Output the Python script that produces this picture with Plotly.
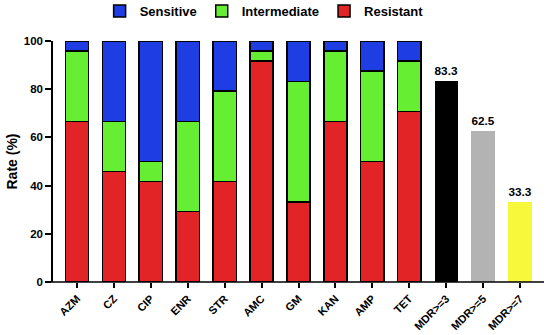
import plotly.graph_objects as go

drugs = ["AZM", "CZ", "CIP", "ENR", "STR", "AMC", "GM", "KAN", "AMP", "TET"]
resistant = [66.7, 45.8, 41.7, 29.2, 41.7, 91.7, 33.3, 66.7, 50.0, 70.8]
intermediate = [29.1, 20.9, 8.3, 37.5, 37.5, 4.1, 50.0, 29.1, 37.5, 20.9]
sensitive = [4.2, 33.3, 50.0, 33.3, 20.8, 4.2, 16.7, 4.2, 12.5, 8.3]
mdr_labels = ["MDR>=3", "MDR>=5", "MDR>=7"]
mdr_values = [83.3, 62.5, 33.3]
mdr_colors = ["#000000", "#b3b3b3", "#f7f73c"]
categories = drugs + mdr_labels
y_ticks = [0, 20, 40, 60, 80, 100]

FONT = "Liberation Sans"
fig = go.Figure()
line = dict(color="black", width=1.5)
fig.add_bar(x=drugs, y=resistant, name="Resistant", marker=dict(color="#e32426", line=line),
            legendrank=3, width=0.63)
fig.add_bar(x=drugs, y=intermediate, name="Intermediate", marker=dict(color="#66ee33", line=line),
            legendrank=2, width=0.63)
fig.add_bar(x=drugs, y=sensitive, name="Sensitive", marker=dict(color="#1e3ee4", line=line),
            legendrank=1, width=0.63)
fig.add_bar(x=mdr_labels, y=mdr_values, showlegend=False, width=0.63,
            marker=dict(color=mdr_colors, line=dict(width=0)),
            text=[f"{v:.1f}" for v in mdr_values], textposition="outside",
            textfont=dict(family=FONT, size=12, color="black", weight="bold"),
            cliponaxis=False)

fig.update_layout(
    width=550, height=335,
    margin=dict(l=53, r=6, t=41, b=53, autoexpand=False),
    barmode="stack",
    plot_bgcolor="white", paper_bgcolor="white",
    font=dict(family=FONT, color="black"),
    legend=dict(orientation="h", traceorder="normal", x=0.43, xanchor="center",
                y=1.124, yanchor="middle",
                font=dict(family=FONT, size=13, weight="bold"), itemwidth=30,
                bgcolor="rgba(0,0,0,0)"),
)
fig.update_xaxes(
    categoryorder="array", categoryarray=categories,
    range=[-0.65, 12.65], showline=False, ticks="outside", ticklen=5, tickwidth=1.5,
    tickcolor="black", tickangle=-45, automargin=False,
    tickfont=dict(family=FONT, size=11, color="black", weight="bold"),
)
fig.update_yaxes(
    range=[0, 100], tickvals=y_ticks, showline=True, linecolor="black", linewidth=1.5,
    ticks="outside", ticklen=6, tickwidth=1.5, tickcolor="black", showgrid=False,
    zeroline=False, automargin=False,
    tickfont=dict(family=FONT, size=11.5, color="black", weight="bold"),
    title=dict(text="Rate (%)", font=dict(family=FONT, size=14, color="black", weight="bold"),
               standoff=3),
)
# x axis baseline extending slightly left of the y axis (GraphPad style)
fig.add_shape(type="line", xref="paper", yref="paper", x0=-0.016, x1=1.0, y0=0, y1=0,
              line=dict(color="black", width=1.5))
fig.write_html("out.html", config={"displayModeBar": False},
               post_script="document.body.style.margin='0';")
